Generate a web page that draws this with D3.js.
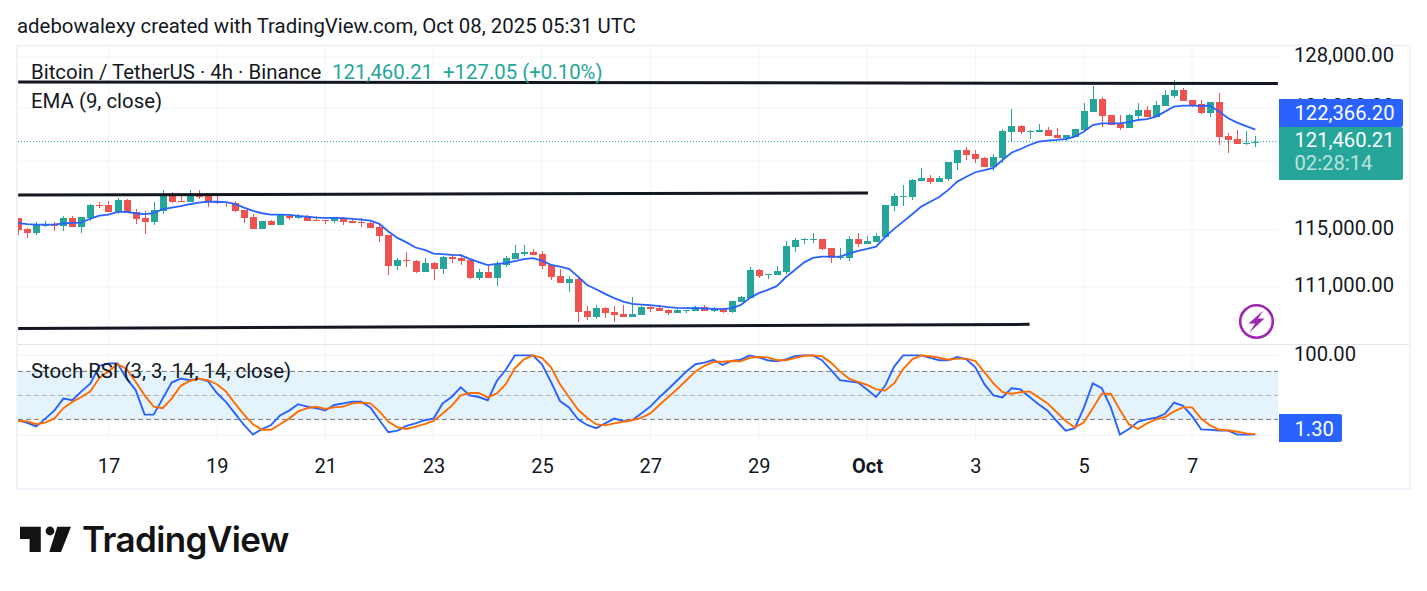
<!DOCTYPE html>
<html>
<head>
<meta charset="utf-8">
<title>BTCUSDT 4h</title>
<script src="https://cdn.jsdelivr.net/npm/d3@7/dist/d3.min.js"></script>
<style>
html,body{margin:0;padding:0;background:#fff}
svg{display:block}
text{font-family:Roboto,sans-serif;fill:#131722}
</style>
</head>
<body>
<svg id="chart" width="1427" height="591"></svg>
<script>
// BTCUSDT 4h candles, oldest first
const firstCandle = Date.UTC(2025, 8, 15, 8);
const stepMs = 4 * 3600 * 1000;

const opens = [
115860,115070,114790,115320,115360,115280,115860,115210,115860,116790,
116790,116290,117150,116290,115860,115570,116360,117590,117080,117000,
117590,117440,117080,117000,116930,116430,115930,115070,115640,115360,
116000,115860,116000,115710,115710,115640,115860,115640,115570,115500,
115210,114640,112460,112880,112810,112040,112670,112250,113090,113020,
112880,111630,112040,111630,112530,112950,113300,113440,113300,112530,
111770,111280,111560,109370,108960,109580,109300,109170,108960,109100,
109640,109580,109440,109240,109370,109370,109640,109370,109510,109300,
109980,110260,112180,111830,111830,112040,113790,114320,114290,114360,
113720,113020,113020,114360,114010,114150,114500,116720,117370,117370,
118540,118760,118460,118680,119870,120840,120540,120240,119570,120240,
122190,122640,122190,122190,122340,121960,121740,121810,122340,123720,
124720,123490,122800,122490,123410,123870,123330,124180,124950,125410,
124640,124330,123640,124490,121890,121660,121290,121333.16];

const highs = [
115860,115140,115570,115640,115570,116000,116000,115930,116860,117000,
117080,117290,117220,116500,116360,117000,117880,117730,117510,117880,
117880,117660,117440,117000,117080,116430,116140,115640,115710,116070,
116070,116140,116070,116000,115710,115930,115930,115780,115860,115570,
115430,114640,113020,113440,112880,113020,112740,113160,113300,113300,
112950,112250,112530,112810,113160,113940,113940,113650,113510,112600,
112250,111770,111630,109710,109780,109640,109710,109780,110330,109710,
109780,109780,109510,109510,109440,109710,109780,109640,109580,110050,
110390,112390,112250,111900,112460,114220,114430,114430,114790,114360,
113720,113720,114570,114790,114570,114790,116790,117660,118240,118680,
119500,118980,118910,119940,120840,121060,120840,120310,120540,122420,
123950,122720,122340,122800,122570,122490,121960,122420,124410,125720,
124870,123490,123490,123560,124410,124180,124560,125410,126190,125570,
124640,124640,124490,125180,122110,122340,122260,121890];

const lows = [
114640,114430,114640,115210,114930,114930,115210,114790,115640,116570,
116290,116140,116210,115430,114720,115360,116140,116930,117000,117000,
117220,116650,116860,116650,116290,115500,115070,115070,115360,115360,
115710,115780,115640,115640,115430,115500,115360,115500,115210,115140,
114150,111830,112180,112390,111970,112040,111490,111900,112670,112530,
111560,111490,111630,111080,112390,112950,113160,113230,112250,111490,
111280,110670,108620,108760,108830,108900,108620,108960,108960,109100,
109300,109370,109100,109240,109240,109370,109370,109300,109240,109240,
109980,110260,111630,111560,111830,111900,113440,114010,114080,113580,
112670,112880,112810,113790,114010,114150,114430,116360,116720,117150,
118540,118320,118460,118540,119350,120090,119870,119570,119280,119870,
121510,122040,121660,122190,121890,121740,121510,121810,122340,123720,
122570,122720,122340,122490,123180,123330,123330,124180,124800,124560,
124100,123560,123330,121210,120610,121290,121210,121060];

const closes = [
115000,114790,115360,115360,115320,115860,115210,115930,116790,116720,
116290,117150,116210,115780,115570,116430,117590,117000,117000,117590,
117370,117000,116930,116930,116360,115860,115070,115640,115360,116070,
115860,116000,115640,115640,115640,115930,115570,115500,115500,115140,
114570,112460,112880,112810,112040,112670,112250,113090,112950,112810,
111630,112040,111630,112600,113020,113370,113440,113230,112460,111700,
111280,111560,109300,108960,109580,109240,109100,108960,109170,109640,
109510,109370,109240,109440,109440,109640,109370,109510,109300,110050,
110330,112180,111770,111900,112110,113860,114290,114360,114360,113650,
113020,113090,114360,114010,114220,114570,116790,117440,117440,118610,
118760,118460,118760,119940,120840,120460,120160,119570,120310,122260,
122640,122190,122260,122340,121890,121740,121960,122420,123790,124720,
123410,122720,122490,123490,123870,123330,124250,125030,125410,124560,
124180,123640,124490,121810,121590,121290,121360,121460.21];

// EMA (9, close)
const emaValues = [
115480,115410,115380,115380,115390,115450,115500,115520,115810,116020,
116090,116290,116290,116190,116120,116190,116480,116590,116700,116840,
116950,117020,117020,117000,116860,116590,116360,116190,116090,116090,
116070,116000,115950,115880,115860,115860,115840,115780,115730,115660,
115430,114880,114430,114110,113750,113580,113320,113280,113230,113210,
112950,112720,112510,112600,112650,112790,112930,113000,112830,112530,
112410,112250,111720,111140,110850,110530,110240,110000,109850,109800,
109760,109690,109620,109580,109560,109560,109530,109510,109490,109560,
109760,110240,110580,110800,111060,111670,112180,112690,113020,113110,
113110,113110,113320,113510,113650,113810,114480,115070,115590,116120,
116670,117020,117370,117880,118490,118850,119180,119330,119500,120090,
120630,120910,121210,121460,121540,121590,121660,121830,122210,122720,
122850,122850,122850,122930,123100,123160,123360,123740,124130,124200,
124200,124180,124200,123740,123230,122900,122640,122366.20];

// Stoch RSI (3, 3, 14, 14, close): %K and %D
const stochK = [
18.8,15.8,11.3,21,31,46,44,55,65,87,
90,90,71,57,26,26,46,66,71,69,
71,68,53,42,27.5,13,1,8,13,25,
31,39,36,34,31,38,40,42,42,35,
19,4,6,12,15,19,21,40,48,60,
50,48,44,68,82,100,100,100,89,67,
43,35,20,13,9,15,21,18,19,27.5,
36,47.5,58,69,80,89,91,94.6,88,93,
94.6,100,97.5,94,92.5,95,99,100,100,94,
82,69,67.5,66,57.5,48,62,86,100,100,
100,97,94,94,98,95,85,64,50,47.5,
59,57.5,48,39,31,18,6,9,34,65,
59,35,1,8,17,20,22,27,41,37,
24,7.5,7,6,6,1,1,1.30];

const stochD = [
18,17.5,14,16,21,34,42,48,55,72,
80,89,83,67,50,36,34,46,62,68,
71,69,64,55,40,26,14,7,7,14,
21,30,34,36,33,35,36,40,41,40,
30,17,10,8,11,14,18,27.5,37,50,
53,53,47.5,52.5,64,84,95,100,97,85,
64,48,32,22,14,12.5,15,17,19,22,
27.5,38,48,58,69,80,87,92,92,93,
92.5,97,98,97.5,94,94,96.5,99.5,100,99,
91,80,71,67,63,57.5,56,65,83,95,
100,99,97,94.6,96,96,93,79,65,54,
52,54,55,47.5,40,29,18,10,16,34,
52,52,32,14,8,15,20,23,30,35,
35,21,12.5,7,6.5,4.6,2.5,1.5];

// Hand-drawn trend lines: candle index and price at each end
const trendStarts = [[0, 126030], [0, 117510], [0, 108190]];
const trendEnds = [[139.5, 125920], [94.1, 117660], [112, 108460]];

const priceGrid = [128000, 124000, 120000, 115000, 111000];
const priceLabels = [128000, 124000, 115000, 111000];
const stochTicks = [100, 0];
const dayTicks = [[9,17],[9,19],[9,21],[9,23],[9,25],[9,27],[9,29],[10,1],[10,3],[10,5],[10,7]];
const dayLabels = ["17","19","21","23","25","27","29","Oct","3","5","7"];

const lastEma = emaValues[emaValues.length - 1];
const lastClose = closes[closes.length - 1];
const lastK = stochK[stochK.length - 1];

const COL = {up:"#26a69a", down:"#ef5350", blue:"#2962ff", orange:"#ff6d00", grid:"#f0f3fa", ink:"#131722", band:"#e5f3fd", dash:"#787b86"};
const paneLeft = 18, paneRight = 1278;

const timeOf = i => new Date(firstCandle + i * stepMs);
const x = d3.scaleUtc().domain([timeOf(0), timeOf(137)]).range([18.2, 1255.3]);
const y = d3.scaleLog().domain([128000, 111000]).range([57, 287]);
const yS = d3.scaleLinear().domain([100, 0]).range([355.4, 435.4]);

const svg = d3.select("#chart");
svg.append("defs").append("clipPath").attr("id", "pane")
  .append("rect").attr("x", paneLeft).attr("y", 46).attr("width", paneRight - paneLeft).attr("height", 396);

// Header line
svg.append("text").attr("x", 17).attr("y", 33).attr("font-size", 20.4).text("adebowalexy created with TradingView.com, Oct 08, 2025 05:31 UTC");

// Frame and pane divider
svg.append("rect").attr("x", 17).attr("y", 45.5).attr("width", 1393).attr("height", 443.5)
  .attr("fill", "none").attr("stroke", COL.grid).attr("stroke-width", 2);
svg.append("line").attr("x1", 18).attr("x2", 1409).attr("y1", 344.5).attr("y2", 344.5).attr("stroke", "#e0e3eb");

// Vertical grid and day labels
const dayDates = dayTicks.map(([m, d]) => new Date(Date.UTC(2025, m - 1, d)));
const gridV = svg.append("g").selectAll("g").data(dayDates).join("g");
gridV.append("line").attr("x1", d => x(d)).attr("x2", d => x(d)).attr("y1", 46).attr("y2", 344).attr("stroke", COL.grid);
gridV.append("line").attr("x1", d => x(d)).attr("x2", d => x(d)).attr("y1", 345).attr("y2", 442).attr("stroke", COL.grid);

const xAxis = d3.axisBottom(x).tickValues(dayDates).tickSize(0).tickPadding(0)
  .tickFormat((d, i) => dayLabels[i]);
const xAxisG = svg.append("g").attr("transform", "translate(0,458)").call(xAxis);
xAxisG.select(".domain").remove();
xAxisG.selectAll("text").attr("font-size", 20).attr("font-family", "Roboto,sans-serif").attr("fill", COL.ink)
  .attr("font-weight", (d, i) => dayLabels[i] === "Oct" ? 700 : 400)
  .attr("dy", "0.47em").attr("y", 5.5);

// Horizontal grid, both panes
svg.append("g").selectAll("line").data(priceGrid).join("line")
  .attr("x1", paneLeft).attr("x2", paneRight).attr("y1", d => y(d)).attr("y2", d => y(d)).attr("stroke", COL.grid);
svg.append("g").selectAll("line").data(stochTicks).join("line")
  .attr("x1", paneLeft).attr("x2", paneRight).attr("y1", d => yS(d)).attr("y2", d => yS(d)).attr("stroke", COL.grid);

// Price pane content
const plot = svg.append("g").attr("clip-path", "url(#pane)");

// Last-price dotted line
plot.append("line").attr("x1", paneLeft).attr("x2", paneRight).attr("y1", y(lastClose)).attr("y2", y(lastClose))
  .attr("stroke", COL.up).attr("stroke-dasharray", "1 2");

const idx = d3.range(opens.length);
const candles = plot.append("g").selectAll("g").data(idx).join("g");
candles.append("line")
  .attr("x1", i => Math.round(x(timeOf(i))) + 0.5).attr("x2", i => Math.round(x(timeOf(i))) + 0.5)
  .attr("y1", i => Math.round(y(highs[i]))).attr("y2", i => Math.round(y(lows[i])))
  .attr("stroke", i => closes[i] >= opens[i] ? COL.up : COL.down);
candles.append("rect")
  .attr("x", i => Math.round(x(timeOf(i))) - 3)
  .attr("width", 7)
  .attr("y", i => Math.round(y(Math.max(opens[i], closes[i]))))
  .attr("height", i => Math.max(1, Math.round(y(Math.min(opens[i], closes[i]))) - Math.round(y(Math.max(opens[i], closes[i])))))
  .attr("fill", i => closes[i] >= opens[i] ? COL.up : COL.down);

// EMA
const emaLine = d3.line().x((d, i) => x(timeOf(i))).y(d => y(d));
plot.append("path").attr("d", emaLine(emaValues)).attr("fill", "none").attr("stroke", COL.blue).attr("stroke-width", 1.8);

// Trend lines
plot.append("g").selectAll("line").data(trendStarts).join("line")
  .attr("x1", d => x(timeOf(d[0]))).attr("y1", d => y(d[1]))
  .attr("x2", (d, i) => x(timeOf(trendEnds[i][0]))).attr("y2", (d, i) => y(trendEnds[i][1]))
  .attr("stroke", COL.ink).attr("stroke-width", 3);

// Stoch RSI pane
plot.append("rect").attr("x", paneLeft).attr("width", paneRight - paneLeft)
  .attr("y", yS(80)).attr("height", yS(20) - yS(80)).attr("fill", COL.band);
const bandLines = [[80, 1], [50, 0.55], [20, 1]];
plot.append("g").selectAll("line").data(bandLines).join("line")
  .attr("x1", paneLeft).attr("x2", paneRight).attr("y1", d => yS(d[0])).attr("y2", d => yS(d[0]))
  .attr("stroke", COL.dash).attr("stroke-opacity", d => d[1]).attr("stroke-dasharray", "5 3");
const stochLine = d3.line().x((d, i) => x(timeOf(i))).y(d => yS(d));
plot.append("path").attr("d", stochLine(stochK)).attr("fill", "none").attr("stroke", COL.blue).attr("stroke-width", 1.9);
plot.append("path").attr("d", stochLine(stochD)).attr("fill", "none").attr("stroke", COL.orange).attr("stroke-width", 1.9);

// Legends
const legend = svg.append("g").attr("font-size", 20.4);
legend.append("text").attr("x", 31).attr("y", 79).text("Bitcoin / TetherUS · 4h · Binance");
legend.append("text").attr("x", 332).attr("y", 79).style("fill", COL.up).text("121,460.21");
legend.append("text").attr("x", 443).attr("y", 79).style("fill", COL.up).text("+127.05 (+0.10%)");
legend.append("text").attr("x", 31).attr("y", 108).text("EMA (9, close)");
legend.append("text").attr("x", 31).attr("y", 378).text("Stoch RSI (3, 3, 14, 14, close)");

// Price axis labels
const fmt = d3.format(",.2f");
const yAxis = d3.axisRight(y).tickValues(priceLabels).tickSize(0).tickPadding(0).tickFormat(fmt);
const yAxisG = svg.append("g").attr("transform", "translate(1294,-2)").call(yAxis);
yAxisG.select(".domain").remove();
yAxisG.selectAll("text").attr("font-size", 20.2).attr("font-family", "Roboto,sans-serif").attr("fill", COL.ink).attr("x", 0);

const sAxis = d3.axisRight(yS).tickValues([100]).tickSize(0).tickPadding(0).tickFormat(fmt);
const sAxisG = svg.append("g").attr("transform", "translate(1294,-1)").call(sAxis);
sAxisG.select(".domain").remove();
sAxisG.selectAll("text").attr("font-size", 20.2).attr("font-family", "Roboto,sans-serif").attr("fill", COL.ink).attr("x", 0);

// Current value tags
function tag(y0, w, h, fill, radius) {
  const r = radius, x0 = 1279;
  svg.append("path")
    .attr("d", `M${x0},${y0}H${x0 + w - r}Q${x0 + w},${y0} ${x0 + w},${y0 + r}V${y0 + h - r}Q${x0 + w},${y0 + h} ${x0 + w - r},${y0 + h}H${x0}Z`)
    .attr("fill", fill);
}
tag(99, 124, 28, COL.blue, 2);
tag(127, 124, 53, COL.up, 2);
tag(414, 63, 28, COL.blue, 2);
const tagText = svg.append("g").attr("font-size", 20.2);
tagText.append("text").attr("x", 1294.5).attr("y", 120).style("fill", "#fff").text(fmt(lastEma));
tagText.append("text").attr("x", 1294.5).attr("y", 147).style("fill", "#fff").text(fmt(lastClose));
tagText.append("text").attr("x", 1294.5).attr("y", 170).style("fill", "#fff").style("fill-opacity", 0.7).text("02:28:14");
tagText.append("text").attr("x", 1294.5).attr("y", 436).style("fill", "#fff").text(lastK.toFixed(2));

// Alert badge in the lower right of the price pane
const badge = svg.append("g").attr("transform", "translate(1256.5,321.5)");
badge.append("circle").attr("r", 16.3).attr("fill", "#fff").attr("stroke", "#9c27b0").attr("stroke-width", 2.6);
badge.append("path").attr("d", "M7,-11 L-8,2 L-1.5,2 L-7,11 L8,-3 L1.5,-3 Z").attr("fill", "#9c27b0");

// Brand mark and wordmark
const brand = svg.append("g").attr("fill", "#131313");
brand.append("path").attr("d", "M20,526.7H40.8V552H29.6V539H20Z");
brand.append("circle").attr("cx", 50).attr("cy", 531).attr("r", 4.4);
brand.append("path").attr("d", "M57.3,526.7H71L61,552H49.3Z");
svg.append("text").attr("x", 82).attr("y", 552).attr("font-size", 35)
  .attr("font-weight", 600).attr("letter-spacing", -0.6).style("font-family", "Inter,sans-serif").style("fill", "#131313").text("TradingView");
</script>
</body>
</html>
